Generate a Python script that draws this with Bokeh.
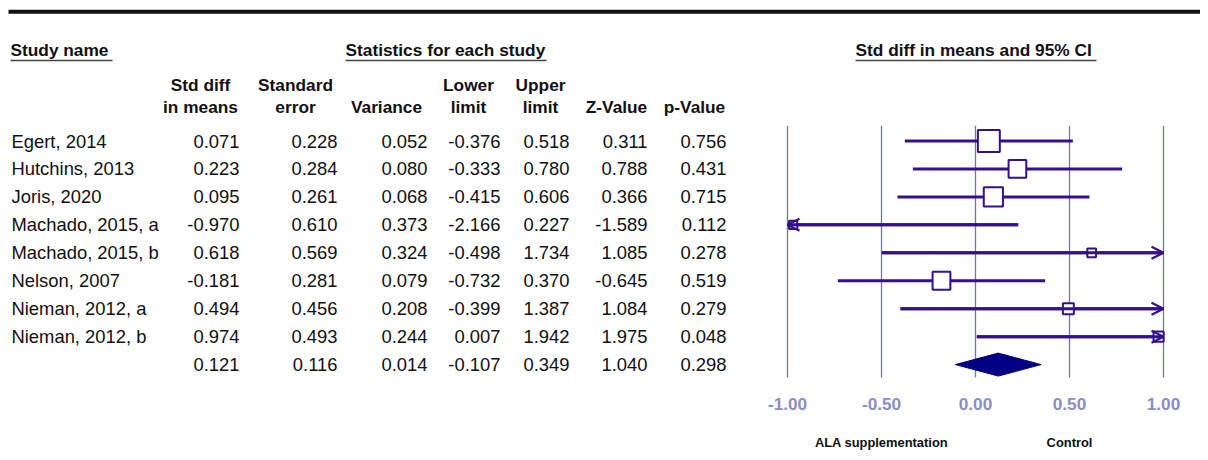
from bokeh.plotting import figure
from bokeh.models import Range1d, ColumnDataSource, Arrow, OpenHead
from bokeh.core.properties import value
from bokeh.embed import file_html
from bokeh.resources import INLINE

# ---------------- data ----------------
studies = ["Egert, 2014", "Hutchins, 2013", "Joris, 2020", "Machado, 2015, a",
           "Machado, 2015, b", "Nelson, 2007", "Nieman, 2012, a", "Nieman, 2012, b"]
std_diff = [0.071, 0.223, 0.095, -0.970, 0.618, -0.181, 0.494, 0.974]
std_err = [0.228, 0.284, 0.261, 0.610, 0.569, 0.281, 0.456, 0.493]
variance = [0.052, 0.080, 0.068, 0.373, 0.324, 0.079, 0.208, 0.244]
lower = [-0.376, -0.333, -0.415, -2.166, -0.498, -0.732, -0.399, 0.007]
upper = [0.518, 0.780, 0.606, 0.227, 1.734, 0.370, 1.387, 1.942]
z_value = [0.311, 0.788, 0.366, -1.589, 1.085, -0.645, 1.084, 1.975]
p_value = [0.756, 0.431, 0.715, 0.112, 0.278, 0.519, 0.279, 0.048]

summary = [0.121, 0.116, 0.014, -0.107, 0.349, 1.040, 0.298]  # same column order

ticks = [-1.0, -0.5, 0.0, 0.5, 1.0]
tick_labels = ["-1.00", "-0.50", "0.00", "0.50", "1.00"]
col_headers = [("Std diff", "in means"), ("Standard", "error"), ("", "Variance"),
               ("Lower", "limit"), ("Upper", "limit"), ("", "Z-Value"), ("", "p-Value")]
favours = ["ALA supplementation", "Control"]
favour_x = [-0.5, 0.5]

# ---------------- layout helpers (page pixels -> data units) ----------------
X0, XS = 975.0, 188.0     # page x of 0, pixels per unit
Y0, YS = 140.5, 27.95     # page y of row 0, pixels per row
OX, OY = 0, 0             # page position of the figure's top-left corner


def dx(px):
    return (px - X0) / XS


def dy(py):
    return (py - Y0) / YS


FONT = value("Liberation Sans")
W, H = 1200, 452

p = figure(width=W, height=H, output_backend="svg", toolbar_location=None,
           x_range=Range1d(dx(OX), dx(OX + W)), y_range=Range1d(dy(OY + H), dy(OY)),
           x_axis_location=None, y_axis_location=None, min_border=0)
p.min_border_left = p.min_border_right = p.min_border_top = p.min_border_bottom = 0
p.outline_line_color = None
p.grid.visible = False
p.background_fill_color = "white"
p.border_fill_color = "white"

# top rule
p.segment(x0=[dx(8)], y0=[dy(11.3)], x1=[dx(1200)], y1=[dy(11.3)],
          line_color="#111111", line_width=4)

# section headers with underlines
sec = [("Study name", 10, 112), ("Statistics for each study", 345, 546),
       ("Std diff in means and 95% CI", 855, 1096)]
for txt, a, b in sec:
    p.text(x=[dx(a)], y=[dy(49)], text=[txt], text_font=FONT, text_font_size="17.3px",
           text_font_style="bold", text_align="left", text_baseline="middle", text_color="#111111")
    p.segment(x0=[dx(a)], y0=[dy(60)], x1=[dx(b)], y1=[dy(60)], line_color="#444444", line_width=1.5)

# column headers
col_right = [239, 337, 427, 500, 569, 647, 726]
col_center = [200, 295, 386, 468, 540, 616, 694]
for (h1, h2), cx in zip(col_headers, col_center):
    if h1:
        p.text(x=[dx(cx)], y=[dy(84)], text=[h1], text_font=FONT, text_font_size="17.3px",
               text_font_style="bold", text_align="center", text_baseline="middle", text_color="#111111")
    p.text(x=[dx(cx)], y=[dy(106)], text=[h2], text_font=FONT, text_font_size="17.3px",
           text_font_style="bold", text_align="center", text_baseline="middle", text_color="#111111")

# table body
rows = list(range(len(studies)))
p.text(x=[dx(11)] * len(studies), y=rows, text=studies, text_font=FONT, text_font_size="18.4px",
       text_align="left", text_baseline="middle", text_color="#111111")
columns = [std_diff, std_err, variance, lower, upper, z_value, p_value]
for col, rx, sval in zip(columns, col_right, summary):
    vals = list(col) + [sval]
    p.text(x=[dx(rx)] * len(vals), y=list(range(len(vals))), text=["%.3f" % v for v in vals],
           text_font=FONT, text_font_size="18.4px", text_align="right", text_baseline="middle",
           text_color="#111111")

# ---------------- forest plot ----------------
GRID = "#7470C6"
CI = "#34108A"
n = len(studies)
p.segment(x0=ticks, y0=[-0.55] * len(ticks), x1=ticks, y1=[n + 0.46] * len(ticks),
          line_color=GRID, line_width=1.3)

lo_c = [max(v, -1.0) for v in lower]
hi_c = [min(v, 1.0) for v in upper]
p.segment(x0=lo_c, y0=rows, x1=hi_c, y1=rows, line_color=CI, line_width=3)

# arrows for clipped intervals
r_src = ColumnDataSource(dict(
    xs=[lo_c[i] for i in rows if upper[i] > 1.0],
    ys=[i for i in rows if upper[i] > 1.0],
    xe=[1.0 for i in rows if upper[i] > 1.0]))
l_src = ColumnDataSource(dict(
    xs=[hi_c[i] for i in rows if lower[i] < -1.0],
    ys=[i for i in rows if lower[i] < -1.0],
    xe=[-1.0 for i in rows if lower[i] < -1.0]))
for src in (r_src, l_src):
    p.add_layout(Arrow(end=OpenHead(size=12, line_color=CI, line_width=2.2),
                       x_start="xs", y_start="ys", x_end="xe", y_end="ys", source=src,
                       line_color=CI, line_width=3))

sizes = [5.0 * (1.0 / v) ** 0.5 for v in variance]
p.scatter(x=std_diff, y=rows, size=sizes, marker="square", fill_color="white",
          line_color=CI, line_width=2)

# summary diamond
s_est, s_lo, s_hi = summary[0], summary[3], summary[4]
hh = 11.5 / YS
p.patch(x=[s_lo, s_est, s_hi, s_est], y=[n, n - hh, n, n + hh],
        fill_color="#000080", line_color="#000080", line_width=1)

# tick labels
p.text(x=ticks, y=[dy(403)] * len(ticks), text=tick_labels, text_font=FONT,
       text_font_size="17.2px", text_font_style="bold", text_align="center",
       text_baseline="middle", text_color="#8A8BC9")

# favours labels
p.text(x=favour_x, y=[dy(442)] * 2, text=favours, text_font=FONT, text_font_size="12.9px",
       text_font_style="bold", text_align="center", text_baseline="middle", text_color="#111111")

open("out.html", "w").write(file_html(p, INLINE))
